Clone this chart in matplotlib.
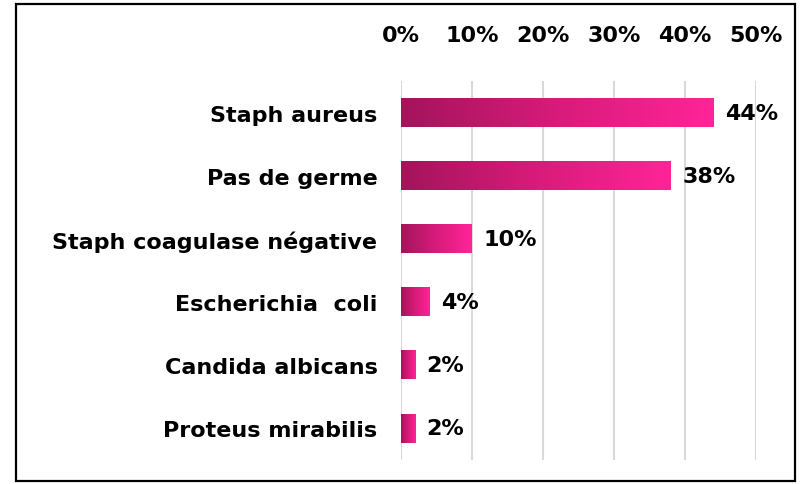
import numpy as np
import matplotlib
matplotlib.use("Agg")
from matplotlib import pyplot as plt
from matplotlib.colors import LinearSegmentedColormap
from matplotlib.patches import Rectangle

# donnees
germes = ["Staph aureus", "Pas de germe", "Staph coagulase négative",
          "Escherichia  coli", "Candida albicans", "Proteus mirabilis"]
valeurs = [0.44, 0.38, 0.10, 0.04, 0.02, 0.02]
etiquettes = ["44%", "38%", "10%", "4%", "2%", "2%"]
graduations = [0, 0.1, 0.2, 0.3, 0.4, 0.5]
graduations_txt = ["0%", "10%", "20%", "30%", "40%", "50%"]

plt.rcParams['font.family'] = ['DejaVu Sans']
plt.rcParams['font.weight'] = 'bold'
taille = 16

fig = plt.figure(figsize=(8.02, 4.85), dpi=100)
ax = fig.add_axes([401/802, 1 - 461/485, (756 - 401)/802, (461 - 82)/485])

degrade = LinearSegmentedColormap.from_list("rose", ["#A3145B", "#D81B7A", "#FF2498"])
grad = np.linspace(0, 1, 256).reshape(1, -1)
h = 0.45

for i, v in enumerate(valeurs):
    ax.imshow(grad, cmap=degrade, aspect='auto', interpolation='bilinear',
              extent=[0, v, i + h/2, i - h/2], zorder=3)
    ax.text(v + 0.016, i, etiquettes[i], va='center', ha='left', fontsize=taille, zorder=4)

ax.set_xlim(0, 0.5)
ax.set_ylim(len(germes) - 0.5, -0.5)
ax.set_yticks(range(len(germes)))
ax.set_yticklabels(germes, fontsize=taille)
ax.set_xticks(graduations)
ax.set_xticklabels(graduations_txt, fontsize=taille)
ax.xaxis.tick_top()
ax.tick_params(axis='x', length=0, pad=26)
ax.tick_params(axis='y', length=0, pad=17)
ax.grid(axis='x', color='#D9D9D9', lw=1.5, zorder=0)
for s in ax.spines.values():
    s.set_visible(False)

fig.patches.append(Rectangle((16/802, 3/485), (795 - 16)/802, (480 - 3)/485,
                             transform=fig.transFigure, fill=False, ec='black', lw=1.6))

fig.savefig("out.png", dpi=100)
